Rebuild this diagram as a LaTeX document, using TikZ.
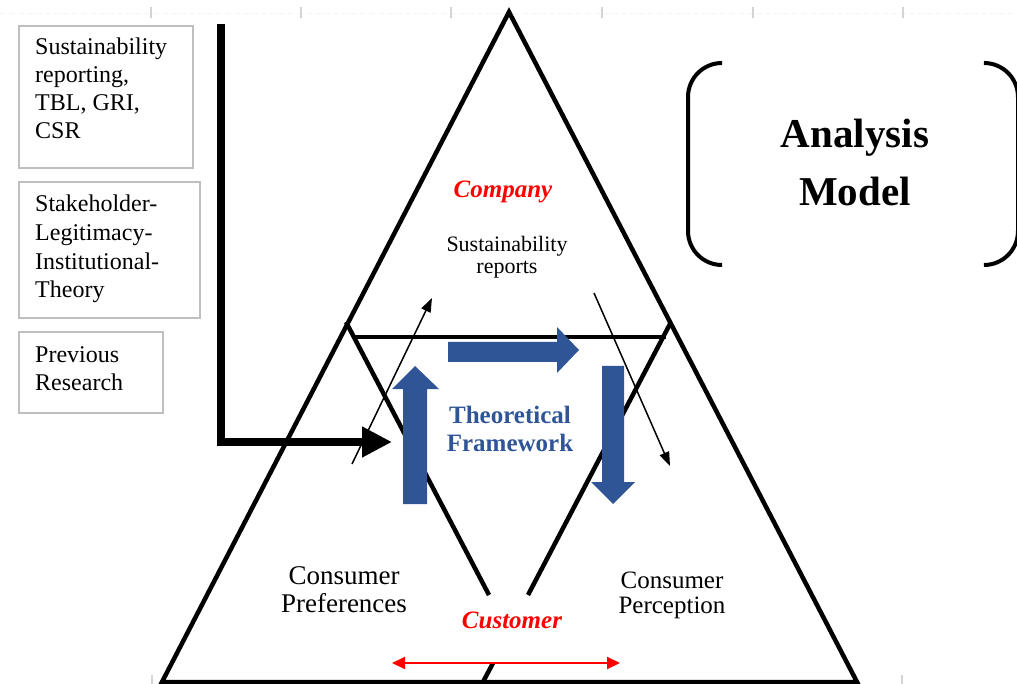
\documentclass[tikz,border=0pt]{standalone}
\usepackage{fontspec}
\setmainfont{Liberation Serif}
\usepackage{xcolor}
\usetikzlibrary{arrows.meta}
\definecolor{tfblue}{RGB}{47,85,151}
\definecolor{ruler}{RGB}{212,212,212}

\begin{document}
\begin{tikzpicture}[x=1pt, y=-1pt,
    triline/.style={line width=4.5pt, line join=miter},
    infobox/.style={draw=gray!50, line width=2pt},
    boxtext/.style={align=left, inner sep=0pt, font=\fontsize{24}{28}\selectfont},
    midtext/.style={align=center, inner sep=0pt, font=\fontsize{25}{28}\selectfont},
    blockarrow/.style={fill=tfblue, draw=none},
    thinarrow/.style={-{Triangle[length=14pt,width=10pt]}, line width=1.5pt},
    tick/.style={ruler, line width=1.5pt}
]
    \useasboundingbox (0,0) rectangle (1017,684);

    % Ruler ticks
    \draw[gray!8, line width=1pt, dash pattern=on 6pt off 3pt] (0,14) -- (1017,14);
    \foreach \x in {151,301,451,602,753,903} {
        \draw[tick] (\x,7) -- (\x,18);
    }
    \foreach \x in {152,902} {
        \draw[tick] (\x,675) -- (\x,684);
    }

    % Left boxes
    \draw[infobox] (19,26) rectangle (193,168);
    \draw[infobox] (19,182) rectangle (200,318);
    \draw[infobox] (19,332) rectangle (163,413);
    \node[boxtext, anchor=west] (srtext) at (35,88) {Sustainability\\reporting,\\TBL, GRI,\\CSR};
    \node[boxtext, font=\fontsize{24}{28.6}\selectfont, anchor=west] (sltext) at (35,249) {Stakeholder-\\Legitimacy-\\Institutional-\\Theory};
    \node[boxtext, anchor=west] (prtext) at (35,369) {Previous\\Research};

    % Triangles
    \draw[triline] (509,12) -- (162,682) -- (857,682) -- cycle;
    \draw[triline] (346,322) -- (489,595);
    \draw[triline] (671,322) -- (528,595);
    \draw[triline] (493,663) -- (483,682);
    \draw[triline] (352,337) -- (666,337);

    % Thin arrows
    \coordinate (upA) at (352,464);
    \coordinate (upB) at (432,298);
    \coordinate (downA) at (594,293);
    \coordinate (downB) at (670,466);
    \draw[thinarrow] (upA) -- (upB);
    \draw[thinarrow] (downA) -- (downB);

    % Input arrow
    \coordinate (inA) at (221,24);
    \coordinate (inB) at (392,442);
    \draw[line width=7.5pt, line join=miter, -{Triangle[length=30pt,width=29pt]}] (inA) |- (inB);

    % Block arrows
    \fill[blockarrow] (403,504) -- (403,389) -- (392,389) -- (415,366) -- (439,389) -- (427,389) -- (427,504) -- cycle;
    \fill[blockarrow] (448,342) -- (557,342) -- (557,327) -- (579,350) -- (557,373) -- (557,362) -- (448,362) -- cycle;
    \fill[blockarrow] (602,366) -- (624,366) -- (624,482) -- (635,482) -- (613,504) -- (591,482) -- (602,482) -- cycle;

    % Labels
    \node[midtext, text=red, font=\fontsize{25}{28}\selectfont\bfseries\itshape] (company) at (503,192) {Company};
    \node[midtext, font=\fontsize{22}{21.5}\selectfont] (reports) at (507,257) {Sustainability\\reports};
    \node[midtext, text=tfblue, font=\fontsize{25}{28}\selectfont\bfseries] (theory) at (510,429) {Theoretical\\Framework};
    \node[midtext, font=\fontsize{27}{28}\selectfont] (prefs) at (344,590) {Consumer\\Preferences};
    \node[midtext, font=\fontsize{25}{25}\selectfont] (percept) at (672,595) {Consumer\\Perception};
    \node[midtext, text=red, font=\fontsize{25}{28}\selectfont\bfseries\itshape] (customer) at (512,620) {Customer};

    % Customer range
    \coordinate (custL) at (392,663);
    \coordinate (custR) at (620,663);
    \draw[red, line width=2pt, {Triangle[length=13pt,width=12pt]}-{Triangle[length=13pt,width=12pt]}] (custL) -- (custR);

    % Analysis model
    \draw[line width=4pt, rounded corners=34pt] (721,63) -- (688,63) -- (688,265) -- (721,265);
    \draw[line width=4pt, rounded corners=34pt] (985,63) -- (1018,63) -- (1018,265) -- (985,265);
    \node[midtext, font=\fontsize{41}{58}\selectfont\bfseries] (analysis) at (855,162) {Analysis\\Model};
\end{tikzpicture}
\end{document}
